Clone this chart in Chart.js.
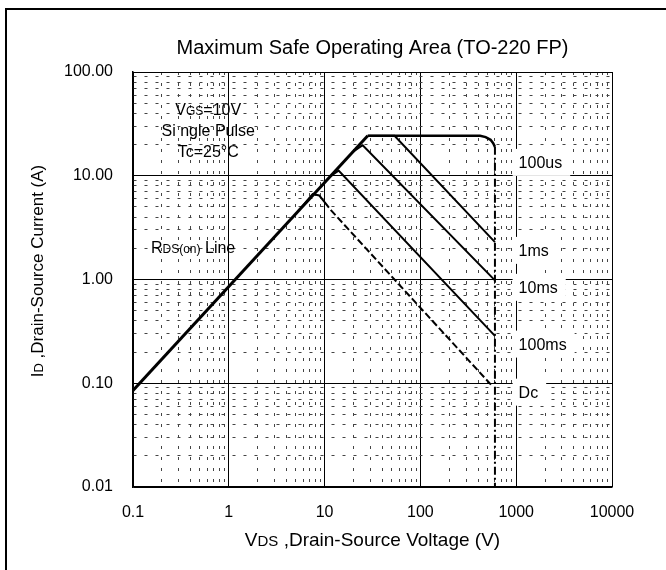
<!DOCTYPE html>
<html>
<head>
<meta charset="utf-8">
<script src="https://cdn.jsdelivr.net/npm/chart.js@4/dist/chart.umd.min.js"></script>
<style>
  body { margin: 0; background: #fff; }
  canvas { display: block; }
</style>
</head>
<body>
<canvas id="soaChart" width="666" height="570"></canvas>
<script>
const FONT = "'Liberation Sans', Arial, sans-serif";

const xTickLabels = ["0.1", "1", "10", "100", "1000", "10000"];
const yTickLabels = ["0.01", "0.10", "1.00", "10.00", "100.00"];

// RDS(on) limit line
const rdsV = [0.1, 28.2];
const rdsI = [0.085, 24.3];

// single pulse curves, from where they leave the RDS(on) line
const us100V = [28.2, 420, 480, 540, 575, 600];
const us100I = [24.3, 24.3, 23.6, 22.2, 20.6, 19.0];

const ms1V = [28.2, 53.7, 600];
const ms1I = [24.3, 24.3, 2.29];

const ms10V = [20, 25, 600];
const ms10I = [17.2, 19.7, 0.98];

const ms100V = [11.5, 14, 600];
const ms100I = [9.9, 11.2, 0.286];

const dcV = [5.45, 7.5, 8.8, 10, 11.7, 552];
const dcI = [4.7, 6.67, 6.45, 5.57, 4.63, 0.0957];

// VDSS limit
const limitV = [600, 600];
const limitI = [19, 0.01];

const curveLabels = ["100us", "1ms", "10ms", "100ms", "Dc"];
const curveLabelI = [13.6, 1.93, 0.85, 0.241, 0.083];
const curveLabelV = 1060;

function pts(xs, ys) {
    return xs.map((x, i) => ({ x: x, y: ys[i] }));
}

function isDecade(v) {
    const l = Math.log10(v);
    return Math.abs(l - Math.round(l)) < 1e-9;
}

// grid at 1..9 of every decade
function gridValues(labels) {
    const decades = labels.map(Number);
    const out = [];
    for (let i = 0; i < decades.length - 1; i++) {
        for (let k = 1; k <= 9; k++) out.push(decades[i] * k);
    }
    out.push(decades[decades.length - 1]);
    return out;
}

function labelFor(v, labels) {
    const hit = labels.find(l => Math.abs(Number(l) - v) / Number(l) < 1e-9);
    return hit || "";
}

function line(data, width, extra) {
    return Object.assign({
        type: "line",
        data: data,
        borderColor: "#000",
        borderWidth: width,
        pointRadius: 0,
        tension: 0,
        fill: false
    }, extra || {});
}

// text with a smaller part, like VGS / RDS(on)
function richWidth(ctx, parts) {
    let w = 0;
    parts.forEach(p => {
        ctx.font = p[1] + "px " + FONT;
        w += ctx.measureText(p[0]).width;
    });
    return w;
}

function drawRich(ctx, parts, x, baseline, align) {
    const w = richWidth(ctx, parts);
    let cx = align === "center" ? x - w / 2 : x;
    ctx.textBaseline = "alphabetic";
    ctx.textAlign = "left";
    parts.forEach(p => {
        ctx.font = p[1] + "px " + FONT;
        ctx.fillText(p[0], cx, baseline);
        cx += ctx.measureText(p[0]).width;
    });
    return w;
}

const textPlugin = {
    id: "soaText",
    beforeDraw(chart) {
        const ctx = chart.ctx;
        ctx.save();
        ctx.fillStyle = "#fff";
        ctx.fillRect(0, 0, chart.width, chart.height);
        ctx.strokeStyle = "#000";
        ctx.lineWidth = 2;
        ctx.beginPath();
        ctx.moveTo(6, chart.height);
        ctx.lineTo(6, 9);
        ctx.lineTo(chart.width, 9);
        ctx.stroke();
        ctx.restore();
    },
    afterDatasetsDraw(chart) {
        const ctx = chart.ctx;
        const xs = chart.scales.x;
        const ys = chart.scales.y;
        const area = chart.chartArea;
        ctx.save();
        ctx.fillStyle = "#000";

        // test conditions
        const cx = xs.getPixelForValue(0.61);
        drawRich(ctx, [["V", 16], ["GS", 12], ["=10V", 16]], cx, ys.getPixelForValue(43.7) + 6, "center");
        drawRich(ctx, [["Si ngle Pulse", 16]], cx, ys.getPixelForValue(27.5) + 6, "center");
        drawRich(ctx, [["Tc=25\u00B0C", 16]], cx, ys.getPixelForValue(17.3) + 6, "center");
        drawRich(ctx, [["R", 16], ["DS(on)", 12], [" Line", 16]], xs.getPixelForValue(0.424), ys.getPixelForValue(2.06) + 6, "center");

        // curve labels on white boxes
        const lx = xs.getPixelForValue(curveLabelV);
        curveLabels.forEach((t, i) => {
            const cy = ys.getPixelForValue(curveLabelI[i]);
            ctx.font = "16px " + FONT;
            const w = ctx.measureText(t).width;
            ctx.fillStyle = "#fff";
            ctx.fillRect(lx - 6, cy - 13, w + 14, 27);
            ctx.fillStyle = "#000";
            ctx.fillText(t, lx, cy + 6);
        });

        // axis titles
        const midX = (area.left + area.right) / 2;
        drawRich(ctx, [["V", 19], ["DS", 15], [" ,Drain-Source Voltage (V)", 19]], midX, 546, "center");

        ctx.translate(43, 271);
        ctx.rotate(-Math.PI / 2);
        drawRich(ctx, [["I", 17], ["D", 13], [" ,Drain-Source Current (A)", 17]], 0, 0, "center");
        ctx.restore();
    }
};

function gridColor(c) {
    return c.tick && !isDecade(c.tick.value) ? "#444" : "#000";
}
function gridDash(c) {
    return c.tick && !isDecade(c.tick.value) ? [3, 8] : [];
}

new Chart(document.getElementById("soaChart"), {
    type: "line",
    data: {
        datasets: [
            line(pts(rdsV, rdsI), 3),
            line(pts(us100V, us100I), 2.5),
            line(pts(ms1V, ms1I), 2),
            line(pts(ms10V, ms10I), 2),
            line(pts(ms100V, ms100I), 2),
            line(pts(dcV, dcI), 2, {
                segment: { borderDash: ctx => ctx.p0.parsed.x >= 10 ? [7, 3] : undefined }
            }),
            line(pts(limitV, limitI), 2, { borderDash: [8, 3, 2, 3] })
        ]
    },
    options: {
        responsive: false,
        animation: false,
        layout: { padding: { left: 0, right: 54, top: 0, bottom: 0 } },
        plugins: {
            legend: { display: false },
            tooltip: { enabled: false },
            title: {
                display: true,
                fullSize: false,
                text: "Maximum Safe Operating Area (TO-220 FP)",
                color: "#000",
                font: { family: FONT, size: 20, weight: "normal" },
                padding: { top: 36, bottom: 12 }
            }
        },
        scales: {
            x: {
                type: "logarithmic",
                min: 0.1,
                max: 10000,
                afterBuildTicks: s => { s.ticks = gridValues(xTickLabels).map(v => ({ value: v })); },
                afterFit: s => { s.height = 83; },
                ticks: {
                    autoSkip: false,
                    maxRotation: 0,
                    padding: 16,
                    color: "#000",
                    font: { family: FONT, size: 16 },
                    callback: v => labelFor(v, xTickLabels)
                },
                grid: { drawTicks: false, color: gridColor, lineWidth: 1 },
                border: { color: "#000", width: 1.5, dash: gridDash }
            },
            y: {
                type: "logarithmic",
                min: 0.01,
                max: 100,
                afterBuildTicks: s => { s.ticks = gridValues(yTickLabels).map(v => ({ value: v })); },
                afterFit: s => { s.width = 133; },
                ticks: {
                    autoSkip: false,
                    padding: 20,
                    color: "#000",
                    font: { family: FONT, size: 16 },
                    callback: v => labelFor(v, yTickLabels)
                },
                grid: { drawTicks: false, color: gridColor, lineWidth: 1 },
                border: { color: "#000", width: 1.5, dash: gridDash }
            }
        }
    },
    plugins: [textPlugin]
});
</script>
</body>
</html>
